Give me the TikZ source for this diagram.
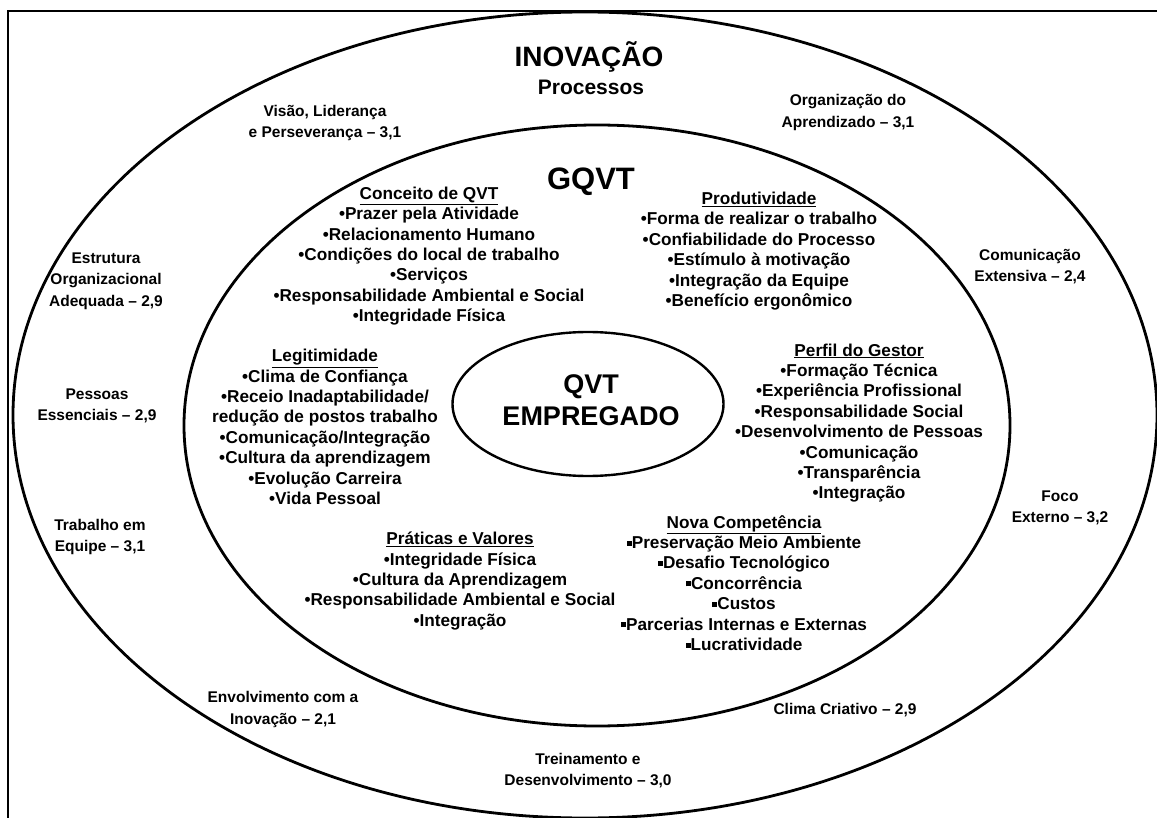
\documentclass[tikz,border=0pt]{standalone}
\usepackage{fontspec}
\setmainfont{Liberation Sans}
\usetikzlibrary{shapes.geometric}
\newcommand{\sqbul}{\raisebox{3pt}{\rule{5pt}{5pt}}}
\begin{document}
\begin{tikzpicture}[x=1pt,y=-1pt,
  outerlbl/.style={font=\fontsize{15.5}{21.5}\selectfont\bfseries, align=center, inner sep=0pt},
  innerlst/.style={font=\fontsize{17.2}{20.4}\selectfont\bfseries, align=center, inner sep=0pt},
  ring/.style={draw, ellipse, line width=2.8pt, inner sep=0pt},
  titlelbl/.style={font=\bfseries, inner sep=0pt}]
\useasboundingbox (0,0) rectangle (1157,818);
\fill[white] (0,0) rectangle (1157,818);
\clip (0,0) rectangle (1157,818);
% frame
\draw[line width=2.2pt] (8,840) -- (8,11) -- (1180,11);
% rings
\node[ring, minimum width=1144pt, minimum height=806pt] (outerring) at (585,415) {};
\node[ring, minimum width=826pt, minimum height=601pt] (innerring) at (597,425.5) {};
\node[ring, line width=2.4pt, minimum width=271pt, minimum height=144pt] (core) at (588,404) {};
\node[titlelbl, font=\fontsize{27}{32}\selectfont\bfseries, align=center] (coretext) at (591,400) {QVT\\EMPREGADO};
% titles
\node[titlelbl, font=\fontsize{28}{32}\selectfont\bfseries] (inov) at (589,57) {INOVAÇÃO};
\node[titlelbl, font=\fontsize{21}{25}\selectfont\bfseries] (proc) at (591,87) {Processos};
\node[titlelbl, font=\fontsize{31}{34}\selectfont\bfseries] (gqvt) at (591,182) {GQVT};
% outer labels
\node[outerlbl] (visao) at (325,123) {Visão, Liderança\\e Perseverança – 3,1};
\node[outerlbl] (orgap) at (848,112.5) {Organização do\\Aprendizado – 3,1};
\node[outerlbl] (estr) at (106,281) {Estrutura\\Organizacional\\Adequada – 2,9};
\node[outerlbl] (comext) at (1030,266.5) {Comunicação\\Extensiva – 2,4};
\node[outerlbl] (pess) at (97,406) {Pessoas\\Essenciais – 2,9};
\node[outerlbl] (foco) at (1060,508) {Foco\\Externo – 3,2};
\node[outerlbl] (trab) at (100,537) {Trabalho em\\Equipe – 3,1};
\node[outerlbl] (envol) at (283,709.5) {Envolvimento com a\\Inovação – 2,1};
\node[outerlbl] (clima) at (845,710) {Clima Criativo – 2,9};
\node[outerlbl] (trein) at (588,770.5) {Treinamento e\\Desenvolvimento – 3,0};
% inner lists
\node[innerlst] (conceito) at (429,256) {\underline{Conceito de QVT}\\•Prazer pela Atividade\\•Relacionamento Humano\\•Condições do local de trabalho\\•Serviços\\•Responsabilidade Ambiental e Social\\•Integridade Física};
\node[innerlst] (produt) at (759,251) {\underline{Produtividade}\\•Forma de realizar o trabalho\\•Confiabilidade do Processo\\•Estímulo à motivação\\•Integração da Equipe\\•Benefício ergonômico};
\node[innerlst] (legit) at (325,427) {\underline{Legitimidade}\\•Clima de Confiança\\•Receio Inadaptabilidade/\\redução de postos trabalho\\•Comunicação/Integração\\•Cultura da aprendizagem\\•Evolução Carreira\\•Vida Pessoal};
\node[innerlst] (perfil) at (859,423) {\underline{Perfil do Gestor}\\•Formação Técnica\\•Experiência Profissional\\•Responsabilidade Social\\•Desenvolvimento de Pessoas\\•Comunicação\\•Transparência\\•Integração};
\node[innerlst] (prat) at (460,581) {\underline{Práticas e Valores}\\•Integridade Física\\•Cultura da Aprendizagem\\•Responsabilidade Ambiental e Social\\•Integração};
\node[innerlst] (nova) at (744,583) {\underline{Nova Competência}\\\sqbul Preservação Meio Ambiente\\\sqbul Desafio Tecnológico\\\sqbul Concorrência\\\sqbul Custos\\\sqbul Parcerias Internas e Externas\\\sqbul Lucratividade};
\end{tikzpicture}
\end{document}
